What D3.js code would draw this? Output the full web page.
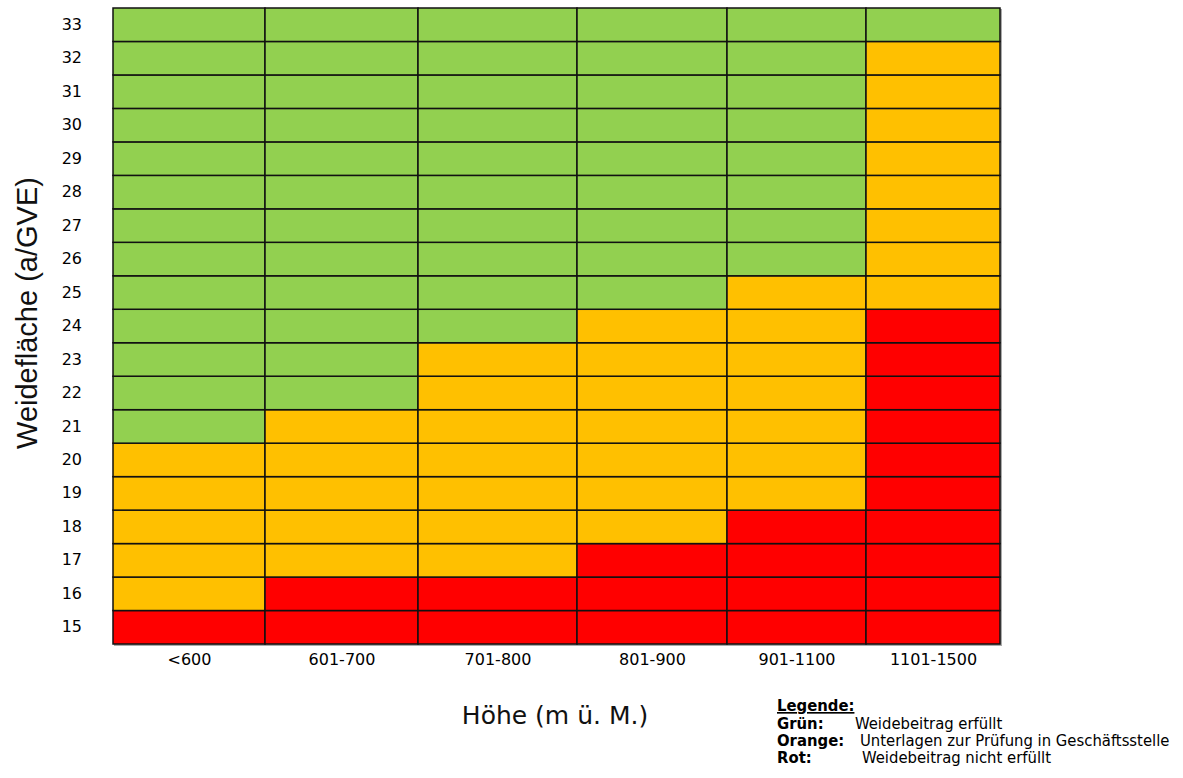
<!DOCTYPE html>
<html>
<head>
<meta charset="utf-8">
<script src="https://cdn.jsdelivr.net/npm/d3@7"></script>
<style>
  body { margin: 0; background: #fff; }
</style>
</head>
<body>
<div id="chart"></div>
<script>
// altitude classes (x) and pasture area per GVE (y)
var heights = ["<600", "601-700", "701-800", "801-900", "901-1100", "1101-1500"];
var areas = [15, 16, 17, 18, 19, 20, 21, 22, 23, 24, 25, 26, 27, 28, 29, 30, 31, 32, 33];
// highest red value and highest orange value per altitude class
var redUpTo = [15, 16, 16, 17, 18, 24];
var orangeUpTo = [20, 21, 23, 24, 25, 32];

var legendLabels = ["Grün:", "Orange:", "Rot:"];
var legendTexts = ["Weidebeitrag erfüllt", "Unterlagen zur Prüfung in Geschäftsstelle", "Weidebeitrag nicht erfüllt"];

var svgWidth = 1183, svgHeight = 778;
var margin = { top: 8, right: 183, bottom: 134, left: 113 };
var chartWidth = svgWidth - margin.left - margin.right;
var chartHeight = svgHeight - margin.top - margin.bottom;

// relative column widths of the original table (layout only)
var colWeights = [152, 153, 159, 150, 139, 134];

var colors = { green: "#92d050", orange: "#ffc000", red: "#ff0000" };

var svg = d3.select("#chart").append("svg")
  .attr("width", svgWidth)
  .attr("height", svgHeight);

var chartGroup = svg.append("g")
  .attr("transform", `translate(${margin.left}, ${margin.top})`);

var edges = [0].concat(Array.from(d3.cumsum(colWeights)));
var xLin = d3.scaleLinear().domain([0, d3.sum(colWeights)]).range([0, chartWidth]);
var xLeft = d3.scaleOrdinal().domain(heights).range(heights.map((h, i) => xLin(edges[i])));
var xCenter = d3.scaleOrdinal().domain(heights).range(heights.map((h, i) => xLin(edges[i] + colWeights[i] / 2)));
var xWidth = d3.scaleOrdinal().domain(heights).range(heights.map((h, i) => xLin(colWeights[i])));

var y = d3.scaleBand().domain(areas.slice().reverse()).range([0, chartHeight]);

var cells = [];
heights.forEach(function(h, i) {
  areas.forEach(function(a) {
    var c = a <= redUpTo[i] ? "red" : (a <= orangeUpTo[i] ? "orange" : "green");
    cells.push({ h: h, a: a, c: c });
  });
});

// soft shadow frame
chartGroup.append("rect")
  .attr("x", 1).attr("y", 1)
  .attr("width", chartWidth + 1).attr("height", chartHeight + 1)
  .attr("fill", "#aaa");

chartGroup.selectAll(".cell")
  .data(cells)
  .enter().append("rect")
  .attr("class", "cell")
  .attr("x", d => xLeft(d.h))
  .attr("y", d => y(d.a))
  .attr("width", d => xWidth(d.h))
  .attr("height", y.bandwidth())
  .attr("fill", d => colors[d.c])
  .attr("stroke", "#111")
  .attr("stroke-width", 1.5);

// y tick labels
var yAxis = d3.axisLeft(y).tickSize(0).tickPadding(31);
var yg = chartGroup.append("g").call(yAxis);
yg.select(".domain").remove();
yg.selectAll("text")
  .attr("font-family", "DejaVu Sans, Verdana, sans-serif")
  .attr("font-size", 16)
  .attr("fill", "#000");

// x tick labels
var xAxis = d3.axisBottom(xCenter).tickSize(0).tickPadding(10);
var xg = chartGroup.append("g")
  .attr("transform", `translate(0,${chartHeight})`)
  .call(xAxis);
xg.select(".domain").remove();
xg.selectAll("text")
  .attr("font-family", "DejaVu Sans, Verdana, sans-serif")
  .attr("font-size", 16)
  .attr("fill", "#000");

// axis titles
svg.append("text")
  .attr("x", 555).attr("y", 724)
  .attr("text-anchor", "middle")
  .attr("font-family", "DejaVu Sans, Verdana, sans-serif")
  .attr("font-size", 25)
  .attr("fill", "#111")
  .text("Höhe (m ü. M.)");

svg.append("text")
  .attr("transform", "translate(37,313) rotate(-90)")
  .attr("text-anchor", "middle")
  .attr("font-family", "Liberation Sans, Arial, sans-serif")
  .attr("font-size", 29)
  .attr("fill", "#111")
  .text("Weidefläche (a/GVE)");

// legend
var legend = svg.append("g")
  .attr("font-family", "DejaVu Sans Condensed, DejaVu Sans, sans-serif")
  .attr("font-size", 16.5)
  .attr("fill", "#000");

legend.append("text")
  .attr("x", 777).attr("y", 711)
  .attr("font-weight", "bold")
  .attr("text-decoration", "underline")
  .text("Legende:");

var descX = [855, 860, 862];
legend.selectAll(".lab")
  .data(legendLabels)
  .enter().append("text")
  .attr("class", "lab")
  .attr("x", 777)
  .attr("y", (d, i) => 729 + i * 17)
  .attr("font-weight", "bold")
  .text(d => d);

legend.selectAll(".desc")
  .data(legendTexts)
  .enter().append("text")
  .attr("class", "desc")
  .attr("x", (d, i) => descX[i])
  .attr("y", (d, i) => 729 + i * 17)
  .text(d => d);
</script>
</body>
</html>
